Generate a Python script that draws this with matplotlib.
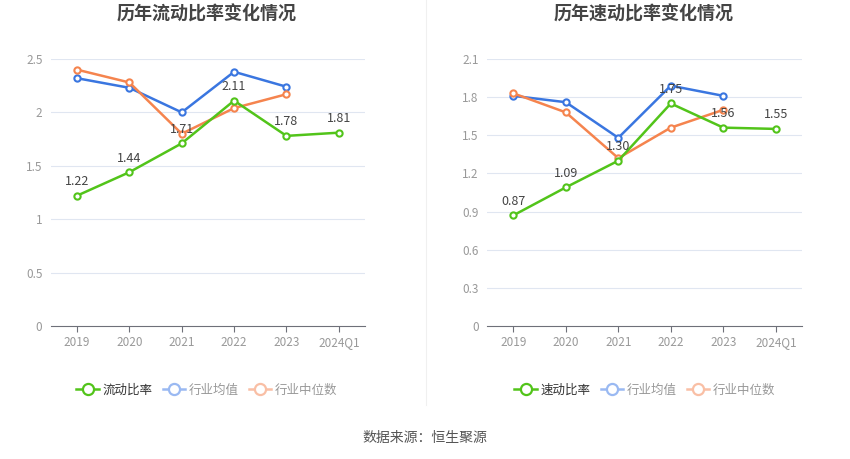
import matplotlib
matplotlib.use("Agg")
import matplotlib.pyplot as plt
from matplotlib.lines import Line2D

plt.rcParams['font.family'] = ['Noto Sans CJK SC', 'DejaVu Sans']

categories = ['2019', '2020', '2021', '2022', '2023', '2024Q1']

current_ratio = [1.22, 1.44, 1.71, 2.11, 1.78, 1.81]
current_ind_mean = [2.32, 2.23, 2.00, 2.38, 2.24]
current_ind_median = [2.40, 2.28, 1.80, 2.04, 2.17]

quick_ratio = [0.87, 1.09, 1.30, 1.75, 1.56, 1.55]
quick_ind_mean = [1.81, 1.76, 1.48, 1.89, 1.81]
quick_ind_median = [1.83, 1.68, 1.32, 1.56, 1.70]

left_ticks = [0, 0.5, 1, 1.5, 2, 2.5]
left_tick_labels = ['0', '0.5', '1', '1.5', '2', '2.5']
right_ticks = [0, 0.3, 0.6, 0.9, 1.2, 1.5, 1.8, 2.1]
right_tick_labels = ['0', '0.3', '0.6', '0.9', '1.2', '1.5', '1.8', '2.1']

GREEN = '#52c41a'
BLUE = '#3a76e0'
ORANGE = '#f5844e'
GREEN_L = '#52c41a'
BLUE_L = '#9ab9f2'
ORANGE_L = '#f9bfa5'

fig = plt.figure(figsize=(8.5, 4.59), dpi=100)

def draw(ax, main, mean, median, ticks, tlabels, ymax):
    x = list(range(len(categories)))
    ax.set_xlim(-0.5, len(categories) - 0.5)
    ax.set_ylim(0, ymax)
    for t in ticks:
        if t > 0:
            ax.axhline(t, color='#e0e6f1', lw=0.8, zorder=0)
    kw = dict(lw=1.8, marker='o', ms=4.5, mfc='white', mew=1.5, zorder=3)
    ax.plot(x[:len(mean)], mean, color=BLUE, **kw)
    ax.plot(x[:len(median)], median, color=ORANGE, **kw)
    ax.plot(x, main, color=GREEN, **kw)
    for xi, v in zip(x, main):
        ax.annotate(f'{v:.2f}', (xi, v), xytext=(0, 5.5), textcoords='offset points',
                    ha='center', va='bottom', fontsize=9, color='#444444', zorder=5)
    ax.set_xticks(x)
    ax.set_xticklabels(categories)
    ax.set_yticks(ticks)
    ax.set_yticklabels(tlabels)
    for s in ['top', 'right', 'left']:
        ax.spines[s].set_visible(False)
    ax.spines['bottom'].set_color('#6e7079')
    ax.tick_params(axis='x', colors='#6e7079', length=4, width=0.8, labelcolor='#999999', labelsize=8.5, pad=3)
    ax.tick_params(axis='y', length=0, labelcolor='#999999', labelsize=8.5, pad=6)

ax1 = fig.add_axes([0.0598, 0.2898, 0.3696, 0.5817])
ax2 = fig.add_axes([0.5730, 0.2898, 0.3706, 0.5817])

draw(ax1, current_ratio, current_ind_mean, current_ind_median, left_ticks, left_tick_labels, 2.5)
draw(ax2, quick_ratio, quick_ind_mean, quick_ind_median, right_ticks, right_tick_labels, 2.1)

fig.text(207 / 850, 1 - 14 / 459, '历年流动比率变化情况', ha='center', va='center', fontsize=13,
         fontweight='bold', color='#444444')
fig.text(644 / 850, 1 - 14 / 459, '历年速动比率变化情况', ha='center', va='center', fontsize=13,
         fontweight='bold', color='#444444')

def legend(cx, name):
    handles = [
        Line2D([], [], color=GREEN_L, lw=1.8, marker='o', ms=8, mfc='white', mew=1.6),
        Line2D([], [], color=BLUE_L, lw=1.8, marker='o', ms=8, mfc='white', mew=1.6),
        Line2D([], [], color=ORANGE_L, lw=1.8, marker='o', ms=8, mfc='white', mew=1.6),
    ]
    lg = fig.legend(handles, [name, '行业均值', '行业中位数'], loc='center',
                    bbox_to_anchor=(cx, 1 - 390 / 459), ncol=3, frameon=False,
                    fontsize=9, handlelength=1.8, handletextpad=0.3, columnspacing=0.8)
    cols = ['#333333', '#999999', '#999999']
    for t, c in zip(lg.get_texts(), cols):
        t.set_color(c)

legend(207 / 850, '流动比率')
legend(645 / 850, '速动比率')

fig.add_artist(Line2D([426 / 850, 426 / 850], [1 - 405 / 459, 1.0], color='#f0f0f0', lw=0.8))

fig.text(0.5, 1 - 438 / 459, '数据来源：恒生聚源', ha='center', va='center', fontsize=10, color='#555555')

fig.savefig('out.png', dpi=100)
